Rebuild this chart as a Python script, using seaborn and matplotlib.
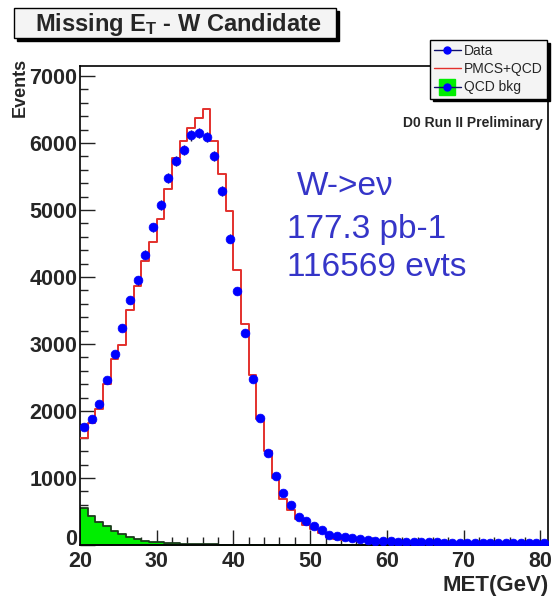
import numpy as np
import pandas as pd
import matplotlib
matplotlib.use("Agg")
import matplotlib.pyplot as plt
import seaborn as sns
from matplotlib.patches import Rectangle
from matplotlib.lines import Line2D
from matplotlib.ticker import MultipleLocator

# ---------------- data (1 GeV bins, lower edges 20..80) ----------------
bin_low = list(range(20, 81))
data_counts = [1764, 1884, 2107, 2460, 2848, 3246, 3660, 3950, 4336, 4743,
               5078, 5475, 5728, 5893, 6116, 6152, 6093, 5809, 5281, 4575,
               3788, 3161, 2481, 1899, 1376, 1027, 779, 594, 415, 355,
               281, 221, 152, 127, 112, 101, 87, 78, 67, 60,
               55, 50, 47, 44, 42, 40, 38, 36, 35, 34,
               33, 32, 31, 30, 29, 28, 27, 26, 26, 25, 25]
pmcs_qcd = [1600, 1824, 2033, 2406, 2769, 2978, 3504, 3863, 4236, 4519,
            4869, 5321, 5779, 6037, 6227, 6376, 6510, 6037, 5540, 4982,
            4101, 3306, 2545, 1884, 1400, 993, 694, 519, 381, 306,
            242, 172, 122, 93, 80, 70, 62, 55, 48, 43,
            38, 34, 31, 28, 26, 24, 22, 20, 19, 18,
            17, 16, 15, 14, 13, 12, 12, 11, 10, 10, 9]
qcd_bkg = [555, 430, 346, 281, 206, 157, 122, 93, 67, 52,
           42, 34, 28, 22, 18, 14, 11, 9, 7, 6,
           5, 4, 4, 3, 3, 3, 2, 2, 2, 2,
           2, 1, 1, 1, 1, 1, 1, 1, 1, 1,
           1, 1, 1, 1, 1, 1, 1, 1, 1, 1,
           1, 1, 1, 1, 1, 1, 1, 1, 1, 1, 1]
x_ticks = [20, 30, 40, 50, 60, 70, 80]
y_ticks = [0, 1000, 2000, 3000, 4000, 5000, 6000, 7000]
legend_labels = ["Data", "PMCS+QCD", "QCD bkg"]
info_lines = ["W->eν", "177.3 pb-1", "116569 evts"]

# ---------------- style ----------------
sns.set_theme(style="white")
plt.rcParams["font.family"] = ["Liberation Sans", "DejaVu Sans"]
plt.rcParams["mathtext.fontset"] = "custom"
plt.rcParams["mathtext.rm"] = "Liberation Sans"
plt.rcParams["mathtext.bf"] = "Liberation Sans:bold"
plt.rcParams["mathtext.it"] = "Liberation Sans:italic"

W, H = 554, 596
fig = plt.figure(figsize=(W / 100, H / 100), dpi=100)
fig.patch.set_facecolor("white")


def fx(x):
    return x / W


def fy(y):
    return 1 - y / H


ax_l, ax_r, ax_t, ax_b = 80, 548, 66, 545
ax = fig.add_axes([fx(ax_l), fy(ax_b), (ax_r - ax_l) / W, (ax_b - ax_t) / H])
ax.set_facecolor("white")

edges = bin_low + [bin_low[-1] + 1]
df = pd.DataFrame({
    "met": np.array(bin_low) + 0.5,
    "data": data_counts,
    "pmcs": pmcs_qcd,
    "qcd": qcd_bkg,
})

# QCD background (filled)
sns.histplot(data=df, x="met", weights="qcd", bins=edges, element="step",
             fill=True, color="#00ee00", edgecolor="#1c3c1c", linewidth=1.3,
             alpha=1, ax=ax, zorder=2)
# PMCS+QCD (red step)
sns.histplot(data=df, x="met", weights="pmcs", bins=edges, element="step",
             fill=False, color="#e3302c", linewidth=1.4, ax=ax, zorder=3)
# Data points with errors
ax.errorbar(df["met"], df["data"], yerr=np.sqrt(df["data"]), fmt="none",
            ecolor="#101030", elinewidth=1.0, zorder=4)
sns.scatterplot(data=df, x="met", y="data", color="#0000ff", edgecolor="#0000ff",
                s=40, linewidth=0.5, ax=ax, zorder=5, legend=False)

ax.set_xlim(20, 81)
ax.set_ylim(0, 7150)
ax.set_xlabel("")
ax.set_ylabel("")

ax.set_xticks(x_ticks)
ax.set_xticklabels([str(t) for t in x_ticks], fontweight="bold", fontsize=15.5)
ax.set_yticks(y_ticks)
ax.set_yticklabels([str(t) for t in y_ticks], fontweight="bold", fontsize=15.5)
ax.get_yticklabels()[0].set_verticalalignment("baseline")
ax.xaxis.set_minor_locator(MultipleLocator(2))
ax.yaxis.set_minor_locator(MultipleLocator(200))
ax.tick_params(which="major", direction="in", length=11, width=1.0,
               color="#222222", left=True, bottom=True, top=False, right=False)
ax.tick_params(which="minor", direction="in", length=5.5, width=1.0,
               color="#222222", left=True, bottom=True, top=False, right=False)
ax.tick_params(axis="x", which="major", pad=4.5)
ax.tick_params(axis="y", which="major", pad=2)
for sp in ax.spines.values():
    sp.set_color("black")
    sp.set_linewidth(1.2)
    sp.set_visible(True)

# ---------------- title box ----------------
bx0, by0, bx1, by1 = 14, 8, 336, 38
fig.patches.append(Rectangle((fx(bx0 + 3), fy(by1 + 3)), (bx1 - bx0) / W, (by1 - by0) / H,
                             transform=fig.transFigure, facecolor="black",
                             edgecolor="black", zorder=1))
fig.patches.append(Rectangle((fx(bx0), fy(by1)), (bx1 - bx0) / W, (by1 - by0) / H,
                             transform=fig.transFigure, facecolor="#f4f4f4",
                             edgecolor="black", linewidth=1.0, zorder=2))
fig.text(fx((bx0 + bx1) / 2 + 3), fy(24), r"Missing $\mathbf{E}_{\mathbf{T}}$ - W Candidate",
         ha="center", va="center", fontsize=17, fontweight="bold", zorder=3)

# ---------------- axis titles ----------------
fig.text(fx(20), fy(87), "Events", rotation=90, ha="center", va="center",
         fontsize=13, fontweight="bold")
fig.text(fx(549), fy(591), "MET(GeV)", ha="right", va="baseline",
         fontsize=16, fontweight="bold")

# ---------------- legend ----------------
h_data = Line2D([], [], color="#10106a", linewidth=1.0, marker="o",
                markersize=5, markerfacecolor="#0000ff", markeredgecolor="#0000ff")
h_pmcs = Line2D([], [], color="#e3302c", linewidth=1.0)
h_qcd_box = Line2D([], [], linestyle="none", marker="s", markersize=11,
                   markerfacecolor="#00ee00", markeredgecolor="#00ee00")
h_qcd_line = Line2D([], [], color="#10106a", linewidth=1.0, marker="o",
                    markersize=5, markerfacecolor="#0000ff", markeredgecolor="#0000ff")
leg = fig.legend(handles=[h_data, h_pmcs, (h_qcd_box, h_qcd_line)],
                 labels=legend_labels, loc="upper right",
                 bbox_to_anchor=(fx(547), fy(40)), frameon=True, fancybox=False,
                 shadow={"color": "black", "alpha": 1},
                 facecolor="#f4f4f4", edgecolor="black", framealpha=1,
                 fontsize=10, handlelength=1.9, handletextpad=0.25,
                 borderpad=0.3, labelspacing=0.3, borderaxespad=0)
leg.get_frame().set_linewidth(1.0)

# ---------------- annotations ----------------
fig.text(fx(543), fy(127), "D0 Run II Preliminary", ha="right", va="baseline",
         fontsize=10, fontweight="bold")
blue_txt = "#3535c8"
fig.text(fx(297), fy(195), info_lines[0], ha="left", va="baseline",
         fontsize=24, color=blue_txt)
fig.text(fx(287), fy(238), info_lines[1], ha="left", va="baseline",
         fontsize=24, color=blue_txt)
fig.text(fx(287), fy(276), info_lines[2], ha="left", va="baseline",
         fontsize=24, color=blue_txt)

fig.savefig("out.png", dpi=100)
